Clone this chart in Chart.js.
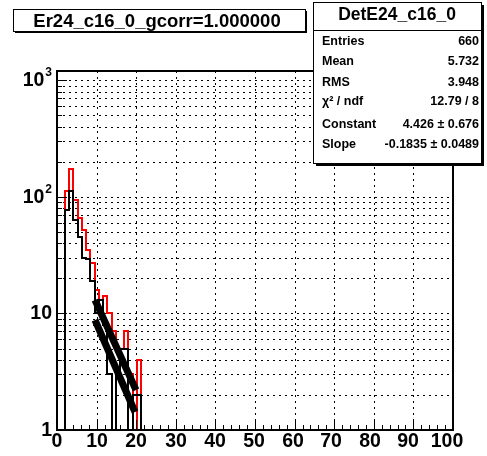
<!DOCTYPE html>
<html>
<head>
<meta charset="utf-8">
<script src="https://cdn.jsdelivr.net/npm/chart.js@4"></script>
<style>
  html, body { margin: 0; padding: 0; background: #fff; }
  #wrap { width: 487px; height: 456px; }
</style>
</head>
<body>
<div id="wrap"><canvas id="myChart" width="487" height="456"></canvas></div>
<script>
// histogram binning (x) and contents
const binEdges = [2.00, 3.07, 4.14, 5.21, 6.28, 7.35, 8.42, 9.49, 10.56, 11.63,
                  12.70, 13.77, 14.84, 15.91, 16.98, 18.05, 19.12, 20.19, 21.26];
const redCounts   = [112, 172, 93, 66, 52, 35, 27, 16, 13, 14, 10, 7, 5, 5, 7, 3, 0, 4];
const blackCounts = [77, 112, 63, 45, 30, 29, 19, 10, 13, 8, 3, 0, 3, 5, 5, 0, 2, 2];

// the two exponential fit lines (straight on log y)
const fitUpperX = [9.5, 20.0];
const fitUpperY = [13.0, 2.2];
const fitLowerX = [9.6, 19.7];
const fitLowerY = [8.8, 1.44];

// axes
const xTicks = [0, 10, 20, 30, 40, 50, 60, 70, 80, 90, 100];
const yGrid = [1, 2, 3, 4, 5, 6, 7, 8, 9,
               10, 20, 30, 40, 50, 60, 70, 80, 90,
               100, 200, 300, 400, 500, 600, 700, 800, 900, 1000];
const yLabels = [1, 10, 100, 1000];

// texts
const titleText = 'Er24_c16_0_gcorr=1.000000';
const statsTitle = 'DetE24_c16_0';
const statLabels = ['Entries', 'Mean', 'RMS', 'χ² / ndf', 'Constant', 'Slope'];
const statValues = ['660', '5.732', '3.948', '12.79 / 8', '4.426 ± 0.676', '-0.1835 ± 0.0489'];

const FLOOR = 0.3; // empty bins drop below the axis (clipped)
const FONT = '"Liberation Sans", Arial, sans-serif';

function steps(counts) {
  const pts = [{x: binEdges[0], y: FLOOR}];
  counts.forEach((c, i) => {
    const v = c > 0 ? c : FLOOR;
    pts.push({x: binEdges[i], y: v});
    pts.push({x: binEdges[i + 1], y: v});
  });
  pts.push({x: binEdges[counts.length], y: FLOOR});
  return pts;
}

const pairs = (xs, ys) => xs.map((x, i) => ({x, y: ys[i]}));

const rootFrame = {
  id: 'rootFrame',
  afterDatasetsDraw(chart) {
    const {ctx, chartArea: a, scales: {x, y}} = chart;
    ctx.save();
    ctx.strokeStyle = '#000';
    ctx.lineWidth = 1;
    ctx.beginPath();
    for (let v = 0; v <= 100; v += 2) {
      const px = Math.round(x.getPixelForValue(v)) + 0.5;
      const len = v % 10 === 0 ? 10 : 5;
      ctx.moveTo(px, a.bottom);
      ctx.lineTo(px, a.bottom - len);
    }
    yGrid.forEach(v => {
      const py = Math.round(y.getPixelForValue(v)) + 0.5;
      const len = yLabels.includes(v) ? 10 : 5;
      ctx.moveTo(a.left, py);
      ctx.lineTo(a.left + len, py);
    });
    ctx.stroke();

    ctx.lineWidth = 2;
    ctx.strokeRect(a.left, a.top, a.right - a.left, a.bottom - a.top);

    // x labels (ROOT drifts them slightly left towards the end)
    ctx.fillStyle = '#000';
    ctx.font = 'bold 19.5px ' + FONT;
    ctx.textAlign = 'center';
    ctx.textBaseline = 'alphabetic';
    xTicks.forEach(v => {
      const shift = Math.max(0, v - 40) * 0.1;
      ctx.fillText(String(v), x.getPixelForValue(v) - shift, a.bottom + 17);
    });

    // y labels, ROOT style 10^n
    ctx.textAlign = 'right';
    ctx.textBaseline = 'middle';
    yLabels.forEach(v => {
      const py = y.getPixelForValue(v);
      const right = a.left - 5;
      if (v < 100) {
        ctx.font = 'bold 19.5px ' + FONT;
        ctx.fillText(String(v), right, py + 1);
      } else {
        const exp = String(Math.round(Math.log10(v)));
        ctx.font = 'bold 12px ' + FONT;
        const w = ctx.measureText(exp).width;
        ctx.fillText(exp, right, py - 7);
        ctx.font = 'bold 19.5px ' + FONT;
        ctx.fillText('10', right - w - 1, py + 1);
      }
    });
    ctx.restore();
  },
  afterDraw(chart) {
    const ctx = chart.ctx;
    ctx.save();
    ctx.strokeStyle = '#000';

    // title box
    ctx.fillStyle = '#fff';
    ctx.fillRect(13, 9, 292, 22);
    ctx.fillStyle = '#000';
    ctx.lineWidth = 1;
    ctx.strokeRect(13.5, 9.5, 292, 22);
    ctx.fillRect(15, 31, 292, 2);
    ctx.fillRect(305, 11, 2, 22);
    ctx.font = 'bold 18.5px ' + FONT;
    ctx.textAlign = 'center';
    ctx.textBaseline = 'alphabetic';
    ctx.fillText(titleText, 157, 27);

    // stats box
    const bx = 313, by = 2, bw = 168, bh = 161;
    ctx.fillStyle = '#fff';
    ctx.fillRect(bx, by, bw, bh);
    ctx.fillStyle = '#000';
    ctx.strokeRect(bx + 0.5, by + 0.5, bw, bh);
    ctx.fillRect(bx + 3, by + bh, bw, 3);
    ctx.fillRect(bx + bw, by + 3, 3, bh);
    ctx.beginPath();
    ctx.moveTo(bx, 30.5);
    ctx.lineTo(bx + bw, 30.5);
    ctx.stroke();

    ctx.font = 'bold 17.5px ' + FONT;
    ctx.textAlign = 'center';
    ctx.fillText(statsTitle, bx + bw / 2, 20);

    const rowBase = [45, 65, 85.5, 105, 128, 148];
    ctx.font = 'bold 12.5px ' + FONT;
    statLabels.forEach((s, i) => {
      ctx.textAlign = 'left';
      ctx.fillText(s, 322, rowBase[i]);
      ctx.textAlign = 'right';
      ctx.fillText(statValues[i], 479, rowBase[i]);
    });
    ctx.restore();
  }
};

const data = {
  datasets: [
    {
      label: 'fit upper',
      data: pairs(fitUpperX, fitUpperY),
      borderColor: '#000',
      borderWidth: 7,
      borderCapStyle: 'butt',
      order: 0
    },
    {
      label: 'fit lower',
      data: pairs(fitLowerX, fitLowerY),
      borderColor: '#000',
      borderWidth: 7,
      borderCapStyle: 'butt',
      order: 1
    },
    {
      label: 'black',
      data: steps(blackCounts),
      borderColor: '#000',
      borderWidth: 2,
      borderJoinStyle: 'miter',
      clip: 0,
      order: 2
    },
    {
      label: 'DetE24_c16_0',
      data: steps(redCounts),
      borderColor: '#ff0000',
      borderWidth: 2,
      borderJoinStyle: 'miter',
      clip: 0,
      order: 3
    }
  ]
};

const dotted = [2, 4];

const config = {
  type: 'line',
  data,
  options: {
    responsive: false,
    animation: false,
    layout: { padding: { top: 71, right: 34, left: 0, bottom: 0 } },
    elements: { point: { radius: 0 }, line: { tension: 0, fill: false } },
    plugins: { legend: { display: false }, tooltip: { enabled: false }, title: { display: false } },
    scales: {
      x: {
        type: 'linear',
        min: 0,
        max: 100,
        alignToPixels: true,
        afterBuildTicks: s => { s.ticks = xTicks.map(v => ({value: v})); },
        afterFit: s => { s.height = 26; },
        ticks: { display: false },
        grid: {
          color: c => (c.tick && c.tick.value > 0 && c.tick.value < 100) ? '#000' : 'rgba(0,0,0,0)',
          lineWidth: 1,
          drawTicks: false
        },
        border: { display: false, dash: dotted }
      },
      y: {
        type: 'logarithmic',
        min: 1,
        max: 1200,
        alignToPixels: true,
        afterBuildTicks: s => { s.ticks = yGrid.map(v => ({value: v})); },
        afterFit: s => { s.width = 57; },
        ticks: { display: false },
        grid: { color: '#000', lineWidth: 1, drawTicks: false },
        border: { display: false, dash: dotted }
      }
    }
  },
  plugins: [rootFrame]
};

const myChart = new Chart(document.getElementById('myChart'), config);
</script>
</body>
</html>
